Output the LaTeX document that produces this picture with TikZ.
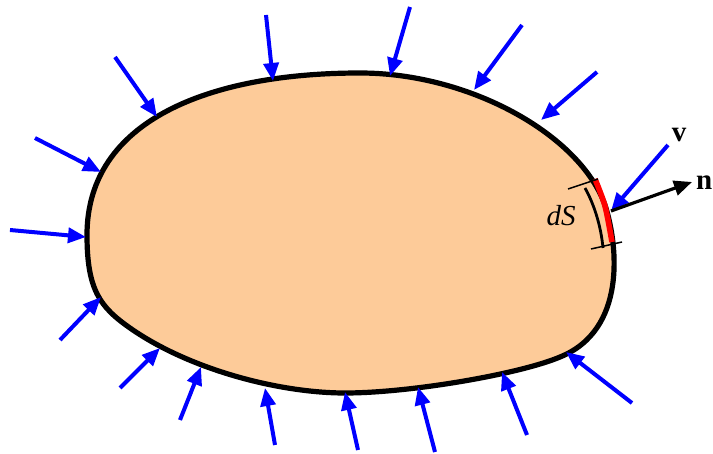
\documentclass[tikz,border=0pt]{standalone}
\usepackage{fontspec}
\setmainfont{Liberation Serif}
\usepackage{tikz}
\usetikzlibrary{arrows.meta,calc}

\definecolor{skin}{RGB}{253,203,153}

\begin{document}
\begin{tikzpicture}[x=1pt,y=-1pt,
  inflow/.style={blue,line width=4pt,-{Triangle[length=18pt,width=15pt]}},
  outflow/.style={black,line width=3.2pt,-{Triangle[length=18pt,width=15pt]}},
  every node/.style={font=\fontsize{29}{33}\selectfont,inner sep=0pt}]
  \useasboundingbox (0,0) rectangle (713,454);
  % body
  \draw[line width=5.2pt,fill=skin] (87,235)
    .. controls (87,120) and (210,73) .. (360,73)
    .. controls (470,73) and (580,135) .. (605,205)
    .. controls (618,245) and (627,330) .. (560,357)
    .. controls (520,374) and (410,393) .. (345,393)
    .. controls (280,393) and (190,370) .. (130,328)
    .. controls (100,307) and (87,290) .. cycle;
  % surface element
  \draw[red,line width=5.6pt] plot[smooth] coordinates {(595,179) (605,206) (612,242)};
  \coordinate (dsA) at (585,188);
  \coordinate (dsB) at (603,248);
  \draw[line width=2.8pt] (dsA) .. controls (594,204) and (601,226) .. (dsB);
  \draw[line width=1.5pt] (568,189) -- (598,179);
  \draw[line width=1.5pt] (591,249) -- (622,242);
  \node[anchor=base] (ds) at (561,226) {\textit{dS}};
  % pressure arrows
  \foreach \i/\tx/\ty/\hx/\hy in {
      1/10/230/86/237, 2/35/138/101/172, 3/115/57/157/117, 4/266/15/273/81,
      5/410/7/390/76, 6/522/25/474/90, 7/597/72/541/120,
      8/60/340/101/297, 9/120/388/160/348, 10/180/420/201/367,
      11/275/445/265/388, 12/358/450/345/392, 13/435/452/418/387,
      14/527/435/502/372, 15/632/403/566/352}{
    \coordinate (t\i) at (\tx,\ty);
    \coordinate (h\i) at (\hx,\hy);
    \draw[inflow] (t\i) -- (h\i);
  }
  % velocity and normal at dS
  \coordinate (p) at (611,211);
  \coordinate (vt) at (668,145);
  \coordinate (nt) at (692,182);
  \draw[inflow] (vt) -- (p);
  \draw[outflow] (p) -- (nt);
  \node[anchor=base] (vlab) at (679,142) {\textbf{v}};
  \node[anchor=base west] (nlab) at (696,190) {\textbf{n}};
\end{tikzpicture}
\end{document}
